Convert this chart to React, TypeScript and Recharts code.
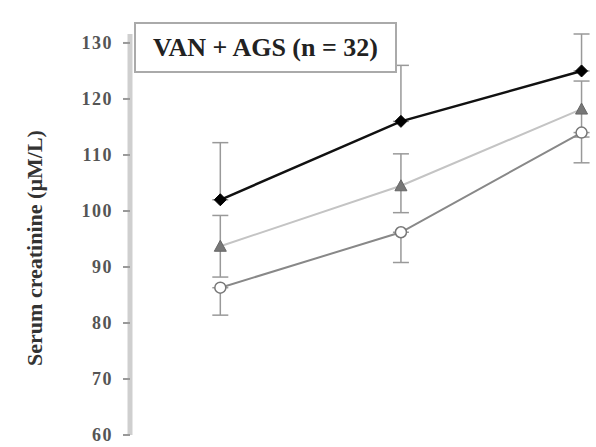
import React from 'react';
import { LineChart, Line, XAxis, YAxis, ErrorBar } from 'recharts';

// visits along the x axis
const visits = [1, 2, 3];
const yTicks = [60, 70, 80, 90, 100, 110, 120, 130];

// serum creatinine, three groups
const topSeries = [102, 116, 125];
const topErr = [[0, 10.2], [0, 10], [0, 6.6]];
const midSeries = [93.7, 104.5, 118.2];
const midErr = [[5.5, 5.5], [4.8, 5.7], [5, 5]];
const lowSeries = [86.3, 96.2, 114];
const lowErr = [[4.9, 0], [5.4, 0], [5.4, 0]];

const data = visits.map((v, i) => ({
  x: v,
  top: topSeries[i],
  topErr: topErr[i],
  mid: midSeries[i],
  midErr: midErr[i],
  low: lowSeries[i],
  lowErr: lowErr[i],
}));

const FilledDiamond = (props: any) => {
  const { cx, cy } = props;
  return (
    <path
      d={`M${cx},${cy - 6}L${cx + 6},${cy}L${cx},${cy + 6}L${cx - 6},${cy}Z`}
      fill="#000"
      stroke="#000"
    />
  );
};

const GrayTriangle = (props: any) => {
  const { cx, cy } = props;
  return (
    <path
      d={`M${cx},${cy - 6}L${cx + 6},${cy + 5}L${cx - 6},${cy + 5}Z`}
      fill="#777"
      stroke="#666"
    />
  );
};

const OpenMarker = (props: any) => {
  const { cx, cy } = props;
  return <circle cx={cx} cy={cy} r={5.5} fill="#fff" stroke="#777" strokeWidth={1.5} />;
};

const AxisTitle = (props: any) => {
  const { viewBox } = props;
  const x = 34;
  const y = 248;
  return (
    <text
      x={x}
      y={y}
      transform={`rotate(-90, ${x}, ${y})`}
      textAnchor="middle"
      dominantBaseline="central"
      fontFamily="'Liberation Serif', serif"
      fontWeight="bold"
      fontSize={22}
      fill="#333"
    >
      Serum creatinine (µM/L)
    </text>
  );
};

export default function App() {
  return (
    <div style={{ position: 'absolute', left: 0, top: 0, width: 596, height: 447, background: '#fff' }}>
      <LineChart width={596} height={447} data={data} margin={{ top: 34, right: 0, bottom: 12, left: 0 }}>
        <XAxis dataKey="x" type="number" domain={[0.5, 3.08]} hide />
        <YAxis
          type="number"
          domain={[60, 130]}
          ticks={yTicks}
          width={130}
          axisLine={{ stroke: '#cfcfcf', strokeWidth: 5 }}
          tickLine={{ stroke: '#999', strokeWidth: 2 }}
          tickSize={7}
          tickMargin={10}
          tick={{ fill: '#555', fontSize: 18, fontWeight: 'bold', fontFamily: "'Liberation Serif', serif", letterSpacing: 1.5 }}
          label={<AxisTitle />}
        />
        <Line
          dataKey="mid"
          stroke="#c4c4c4"
          strokeWidth={2}
          dot={<GrayTriangle />}
          isAnimationActive={false}
        >
          <ErrorBar dataKey="midErr" direction="y" width={8} stroke="#999" strokeWidth={1.5} />
        </Line>
        <Line
          dataKey="low"
          stroke="#888"
          strokeWidth={2}
          dot={<OpenMarker />}
          isAnimationActive={false}
        >
          <ErrorBar dataKey="lowErr" direction="y" width={8} stroke="#999" strokeWidth={1.5} />
        </Line>
        <Line
          dataKey="top"
          stroke="#111"
          strokeWidth={2.5}
          dot={<FilledDiamond />}
          isAnimationActive={false}
        >
          <ErrorBar dataKey="topErr" direction="y" width={8} stroke="#999" strokeWidth={1.5} />
        </Line>
      </LineChart>
      <div
        style={{
          position: 'absolute',
          left: 134,
          top: 22,
          width: 259,
          height: 47,
          border: '2px solid #aaa',
          display: 'flex',
          alignItems: 'center',
          justifyContent: 'center',
          fontFamily: "'Liberation Serif', serif",
          fontWeight: 'bold',
          fontSize: 26,
          color: '#222',
          whiteSpace: 'nowrap',
          background: '#fff',
        }}
      >
        VAN + AGS (n = 32)
      </div>
    </div>
  );
}
